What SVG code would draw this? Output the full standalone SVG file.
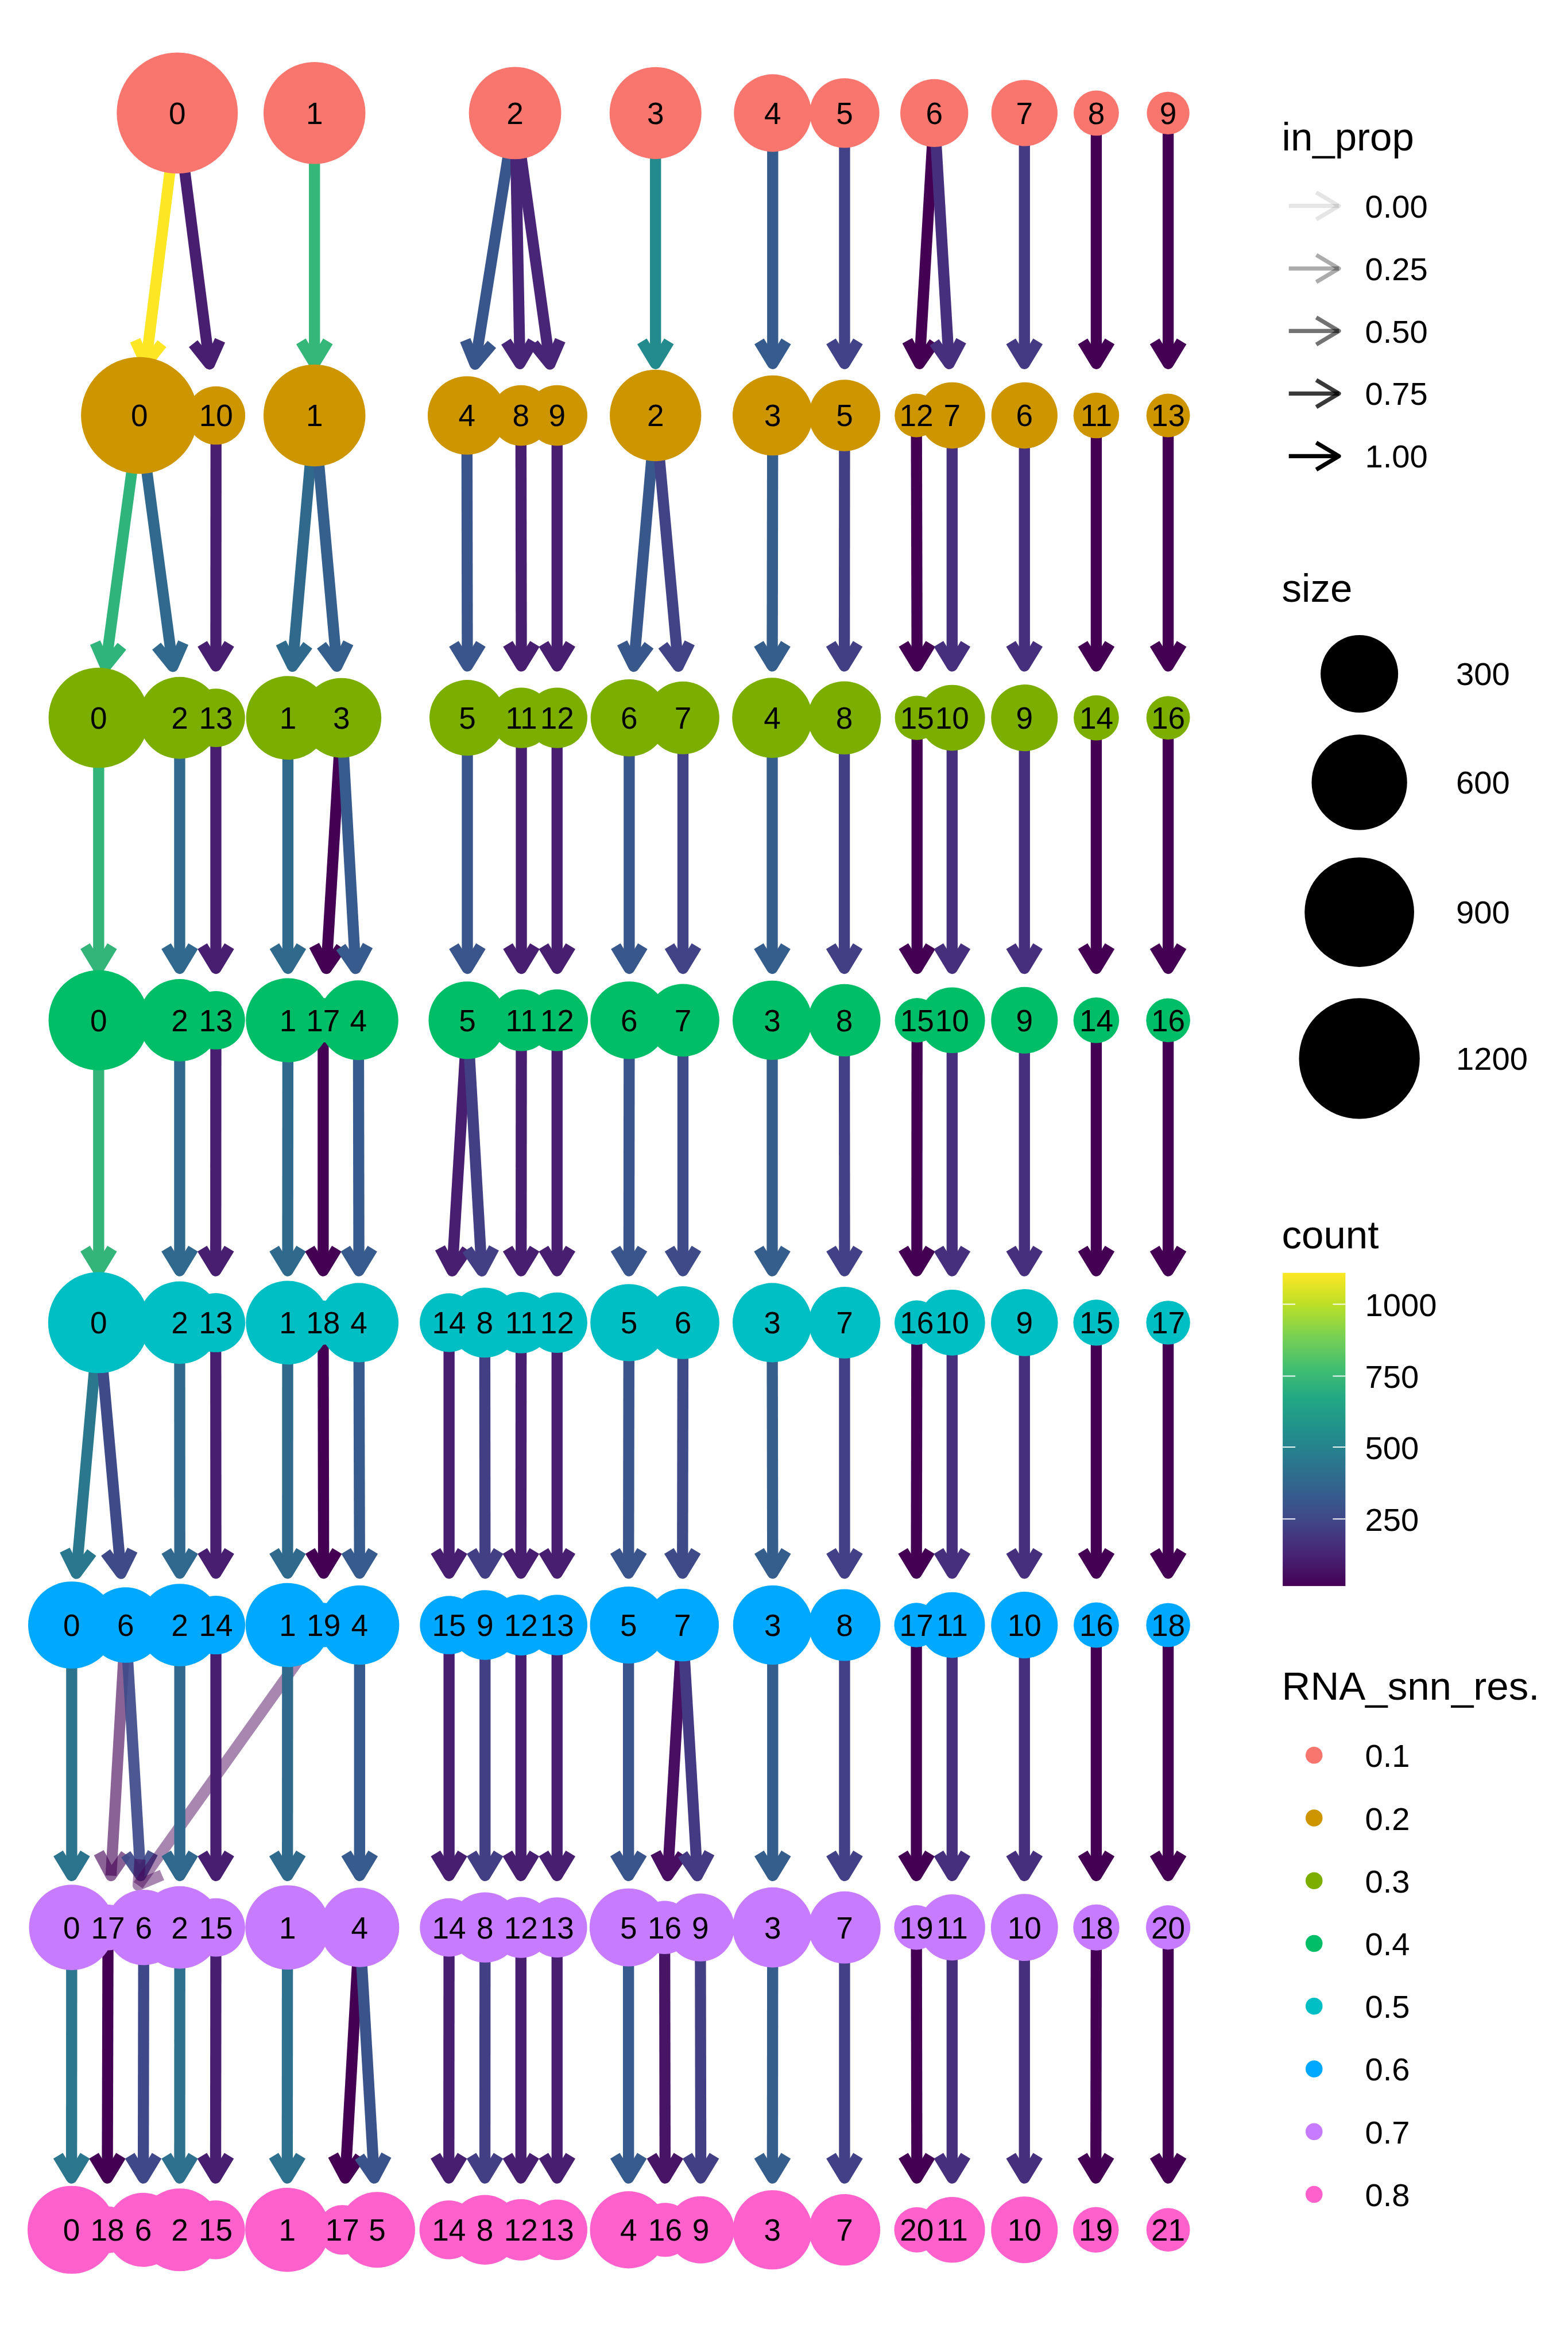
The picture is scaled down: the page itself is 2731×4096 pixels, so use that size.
<svg xmlns="http://www.w3.org/2000/svg" width="2731" height="4096" viewBox="0 0 2731 4096">
<style>
.e{fill:none;stroke-width:25.5;stroke-linejoin:round;stroke-linecap:butt}
.t{font-family:"Liberation Sans",Arial,Helvetica,sans-serif;font-size:70px;text-anchor:middle;fill:#000}
.lt{font-family:"Liberation Sans",Arial,Helvetica,sans-serif;font-size:91px;fill:#000}
.ll{font-family:"Liberation Sans",Arial,Helvetica,sans-serif;font-size:74px;fill:#000}
.r1{fill:#F8766D}.r2{fill:#CD9600}.r3{fill:#7CAE00}.r4{fill:#00BE67}
.r5{fill:#00BFC4}.r6{fill:#00A9FF}.r7{fill:#C77CFF}.r8{fill:#FF61CC}
.la{fill:none;stroke:#000;stroke-width:9.5;stroke-linejoin:round}
.tick{stroke:#fff;stroke-width:2.5}
</style>
<defs>
<path id="ah" d="M-31,-51 L0,0 L31,-51"/>
<linearGradient id="vir" x1="0" y1="1" x2="0" y2="0">
<stop offset="0" stop-color="#440154"/><stop offset="0.1" stop-color="#482475"/><stop offset="0.2" stop-color="#414487"/><stop offset="0.3" stop-color="#355F8D"/><stop offset="0.4" stop-color="#2A788E"/><stop offset="0.5" stop-color="#21918C"/><stop offset="0.6" stop-color="#22A884"/><stop offset="0.7" stop-color="#44BF70"/><stop offset="0.8" stop-color="#7AD151"/><stop offset="0.9" stop-color="#BDDF26"/><stop offset="1" stop-color="#FDE725"/>
</linearGradient>
</defs>
<rect width="2731" height="4096" fill="#fff"/>
<g transform="scale(0.758611)">
<g id="edges">
<!-- 0.1 -> 0.2 -->
<g class="e" stroke="#FDE725"><line x1="407" y1="259.5" x2="334.8" y2="835.6"/><use href="#ah" transform="translate(334.8 835.6) rotate(7.14)"/></g>
<g class="e" stroke="#481F70"><line x1="407" y1="259.5" x2="480.9" y2="835.7"/><use href="#ah" transform="translate(480.9 835.7) rotate(-7.31)"/></g>
<g class="e" stroke="#35B779"><line x1="722" y1="259.5" x2="722" y2="834.7"/><use href="#ah" x="722" y="834.7"/></g>
<g class="e" stroke="#39568C"><line x1="1182.5" y1="259.5" x2="1090.7" y2="836.2"/><use href="#ah" transform="translate(1090.7 836.2) rotate(9.04)"/></g>
<g class="e" stroke="#482576"><line x1="1182.5" y1="259.5" x2="1193.7" y2="834.7"/><use href="#ah" transform="translate(1193.7 834.7) rotate(-1.11)"/></g>
<g class="e" stroke="#482576"><line x1="1182.5" y1="259.5" x2="1262.6" y2="835.8"/><use href="#ah" transform="translate(1262.6 835.8) rotate(-7.91)"/></g>
<g class="e" stroke="#238A8D"><line x1="1505" y1="259.5" x2="1505" y2="834.7"/><use href="#ah" x="1505" y="834.7"/></g>
<g class="e" stroke="#365C8D"><line x1="1774" y1="259.5" x2="1774" y2="834.7"/><use href="#ah" x="1774" y="834.7"/></g>
<g class="e" stroke="#414287"><line x1="1939" y1="259.5" x2="1939" y2="834.7"/><use href="#ah" x="1939" y="834.7"/></g>
<g class="e" stroke="#440154"><line x1="2145" y1="259.5" x2="2111" y2="834.9"/><use href="#ah" transform="translate(2111 834.9) rotate(3.38)"/></g>
<g class="e" stroke="#46307E"><line x1="2145" y1="259.5" x2="2179" y2="834.9"/><use href="#ah" transform="translate(2179 834.9) rotate(-3.38)"/></g>
<g class="e" stroke="#443A83"><line x1="2352" y1="259.5" x2="2352" y2="834.7"/><use href="#ah" x="2352" y="834.7"/></g>
<g class="e" stroke="#440154"><line x1="2517" y1="259.5" x2="2517" y2="834.7"/><use href="#ah" x="2517" y="834.7"/></g>
<g class="e" stroke="#440154"><line x1="2682" y1="259.5" x2="2682" y2="834.7"/><use href="#ah" x="2682" y="834.7"/></g>
<!-- 0.2 -> 0.3 -->
<g class="e" stroke="#2FB47C"><line x1="320" y1="953.7" x2="242.4" y2="1530"/><use href="#ah" transform="translate(242.4 1530) rotate(7.67)"/></g>
<g class="e" stroke="#31688E"><line x1="320" y1="953.7" x2="396.8" y2="1529.9"/><use href="#ah" transform="translate(396.8 1529.9) rotate(-7.59)"/></g>
<g class="e" stroke="#481F70"><line x1="496" y1="953.7" x2="495.6" y2="1528.9"/><use href="#ah" x="495.6" y="1528.9"/></g>
<g class="e" stroke="#2F6A8D"><line x1="722" y1="953.7" x2="671.4" y2="1529.4"/><use href="#ah" transform="translate(671.4 1529.4) rotate(5.02)"/></g>
<g class="e" stroke="#355F8D"><line x1="722" y1="953.7" x2="773.4" y2="1529.4"/><use href="#ah" transform="translate(773.4 1529.4) rotate(-5.1)"/></g>
<g class="e" stroke="#3A558B"><line x1="1072" y1="953.7" x2="1073" y2="1528.9"/><use href="#ah" x="1073" y="1528.9"/></g>
<g class="e" stroke="#481F70"><line x1="1196" y1="953.7" x2="1197" y2="1528.9"/><use href="#ah" x="1197" y="1528.9"/></g>
<g class="e" stroke="#481F70"><line x1="1279" y1="953.7" x2="1279" y2="1528.9"/><use href="#ah" x="1279" y="1528.9"/></g>
<g class="e" stroke="#38588C"><line x1="1505" y1="953.7" x2="1454.9" y2="1529.4"/><use href="#ah" transform="translate(1454.9 1529.4) rotate(4.97)"/></g>
<g class="e" stroke="#424387"><line x1="1505" y1="953.7" x2="1557.3" y2="1529.4"/><use href="#ah" transform="translate(1557.3 1529.4) rotate(-5.19)"/></g>
<g class="e" stroke="#355E8D"><line x1="1774" y1="953.7" x2="1773" y2="1528.9"/><use href="#ah" x="1773" y="1528.9"/></g>
<g class="e" stroke="#433F85"><line x1="1939" y1="953.7" x2="1938.5" y2="1528.9"/><use href="#ah" x="1938.5" y="1528.9"/></g>
<g class="e" stroke="#440154"><line x1="2104" y1="953.7" x2="2105.5" y2="1528.9"/><use href="#ah" x="2105.5" y="1528.9"/></g>
<g class="e" stroke="#46307E"><line x1="2186" y1="953.7" x2="2186" y2="1528.9"/><use href="#ah" x="2186" y="1528.9"/></g>
<g class="e" stroke="#46307E"><line x1="2352" y1="953.7" x2="2352" y2="1528.9"/><use href="#ah" x="2352" y="1528.9"/></g>
<g class="e" stroke="#440154"><line x1="2517" y1="953.7" x2="2517" y2="1528.9"/><use href="#ah" x="2517" y="1528.9"/></g>
<g class="e" stroke="#440154"><line x1="2682" y1="953.7" x2="2682" y2="1528.9"/><use href="#ah" x="2682" y="1528.9"/></g>
<!-- 0.3 -> 0.4 -->
<g class="e" stroke="#33B57A"><line x1="226.5" y1="1647.9" x2="226.5" y2="2223.1"/><use href="#ah" x="226.5" y="2223.1"/></g>
<g class="e" stroke="#30688E"><line x1="412.5" y1="1647.9" x2="412.5" y2="2223.1"/><use href="#ah" x="412.5" y="2223.1"/></g>
<g class="e" stroke="#481F70"><line x1="495.6" y1="1647.9" x2="495.6" y2="2223.1"/><use href="#ah" x="495.6" y="2223.1"/></g>
<g class="e" stroke="#2F6A8D"><line x1="661" y1="1647.9" x2="661" y2="2223.1"/><use href="#ah" x="661" y="2223.1"/></g>
<g class="e" stroke="#440154"><line x1="784" y1="1647.9" x2="749.2" y2="2223.3"/><use href="#ah" transform="translate(749.2 2223.3) rotate(3.46)"/></g>
<g class="e" stroke="#375B8C"><line x1="784" y1="1647.9" x2="816.3" y2="2223.3"/><use href="#ah" transform="translate(816.3 2223.3) rotate(-3.22)"/></g>
<g class="e" stroke="#3A558B"><line x1="1073" y1="1647.9" x2="1073" y2="2223.1"/><use href="#ah" x="1073" y="2223.1"/></g>
<g class="e" stroke="#481F70"><line x1="1197" y1="1647.9" x2="1197" y2="2223.1"/><use href="#ah" x="1197" y="2223.1"/></g>
<g class="e" stroke="#481F70"><line x1="1279" y1="1647.9" x2="1279" y2="2223.1"/><use href="#ah" x="1279" y="2223.1"/></g>
<g class="e" stroke="#38588C"><line x1="1444.6" y1="1647.9" x2="1444.6" y2="2223.1"/><use href="#ah" x="1444.6" y="2223.1"/></g>
<g class="e" stroke="#424387"><line x1="1568" y1="1647.9" x2="1568" y2="2223.1"/><use href="#ah" x="1568" y="2223.1"/></g>
<g class="e" stroke="#355E8D"><line x1="1773" y1="1647.9" x2="1773" y2="2223.1"/><use href="#ah" x="1773" y="2223.1"/></g>
<g class="e" stroke="#433F85"><line x1="1938.5" y1="1647.9" x2="1938.5" y2="2223.1"/><use href="#ah" x="1938.5" y="2223.1"/></g>
<g class="e" stroke="#440154"><line x1="2105.5" y1="1647.9" x2="2105.5" y2="2223.1"/><use href="#ah" x="2105.5" y="2223.1"/></g>
<g class="e" stroke="#46307E"><line x1="2186" y1="1647.9" x2="2186" y2="2223.1"/><use href="#ah" x="2186" y="2223.1"/></g>
<g class="e" stroke="#46307E"><line x1="2352" y1="1647.9" x2="2352" y2="2223.1"/><use href="#ah" x="2352" y="2223.1"/></g>
<g class="e" stroke="#440154"><line x1="2517" y1="1647.9" x2="2517" y2="2223.1"/><use href="#ah" x="2517" y="2223.1"/></g>
<g class="e" stroke="#440154"><line x1="2682" y1="1647.9" x2="2682" y2="2223.1"/><use href="#ah" x="2682" y="2223.1"/></g>
<!-- 0.4 -> 0.5 -->
<g class="e" stroke="#33B57A"><line x1="226.5" y1="2342.1" x2="226.5" y2="2917.3"/><use href="#ah" x="226.5" y="2917.3"/></g>
<g class="e" stroke="#30688E"><line x1="412.5" y1="2342.1" x2="412.5" y2="2917.3"/><use href="#ah" x="412.5" y="2917.3"/></g>
<g class="e" stroke="#481F70"><line x1="495.6" y1="2342.1" x2="495.3" y2="2917.3"/><use href="#ah" x="495.3" y="2917.3"/></g>
<g class="e" stroke="#2F6A8D"><line x1="661" y1="2342.1" x2="660.5" y2="2917.3"/><use href="#ah" x="660.5" y="2917.3"/></g>
<g class="e" stroke="#440154"><line x1="742" y1="2342.1" x2="742" y2="2917.3"/><use href="#ah" x="742" y="2917.3"/></g>
<g class="e" stroke="#375B8C"><line x1="823" y1="2342.1" x2="824" y2="2917.3"/><use href="#ah" x="824" y="2917.3"/></g>
<g class="e" stroke="#481F70"><line x1="1073" y1="2342.1" x2="1038.2" y2="2917.5"/><use href="#ah" transform="translate(1038.2 2917.5) rotate(3.46)"/></g>
<g class="e" stroke="#433F85"><line x1="1073" y1="2342.1" x2="1106.2" y2="2917.5"/><use href="#ah" transform="translate(1106.2 2917.5) rotate(-3.3)"/></g>
<g class="e" stroke="#481F70"><line x1="1197" y1="2342.1" x2="1196.5" y2="2917.3"/><use href="#ah" x="1196.5" y="2917.3"/></g>
<g class="e" stroke="#481F70"><line x1="1279" y1="2342.1" x2="1279" y2="2917.3"/><use href="#ah" x="1279" y="2917.3"/></g>
<g class="e" stroke="#3A558B"><line x1="1444.6" y1="2342.1" x2="1444" y2="2917.3"/><use href="#ah" x="1444" y="2917.3"/></g>
<g class="e" stroke="#3F4A89"><line x1="1568" y1="2342.1" x2="1568" y2="2917.3"/><use href="#ah" x="1568" y="2917.3"/></g>
<g class="e" stroke="#355E8D"><line x1="1773" y1="2342.1" x2="1773" y2="2917.3"/><use href="#ah" x="1773" y="2917.3"/></g>
<g class="e" stroke="#424086"><line x1="1938.5" y1="2342.1" x2="1939" y2="2917.3"/><use href="#ah" x="1939" y="2917.3"/></g>
<g class="e" stroke="#440154"><line x1="2105.5" y1="2342.1" x2="2105" y2="2917.3"/><use href="#ah" x="2105" y="2917.3"/></g>
<g class="e" stroke="#46307E"><line x1="2186" y1="2342.1" x2="2186" y2="2917.3"/><use href="#ah" x="2186" y="2917.3"/></g>
<g class="e" stroke="#46307E"><line x1="2352" y1="2342.1" x2="2352" y2="2917.3"/><use href="#ah" x="2352" y="2917.3"/></g>
<g class="e" stroke="#440154"><line x1="2517" y1="2342.1" x2="2517" y2="2917.3"/><use href="#ah" x="2517" y="2917.3"/></g>
<g class="e" stroke="#440154"><line x1="2682" y1="2342.1" x2="2682" y2="2917.3"/><use href="#ah" x="2682" y="2917.3"/></g>
<!-- 0.5 -> 0.6 -->
<g class="e" stroke="#2A788E"><line x1="226.5" y1="3036.3" x2="175.2" y2="3612"/><use href="#ah" transform="translate(175.2 3612) rotate(5.1)"/></g>
<g class="e" stroke="#3F4B89"><line x1="226.5" y1="3036.3" x2="277.8" y2="3612"/><use href="#ah" transform="translate(277.8 3612) rotate(-5.1)"/></g>
<g class="e" stroke="#31688E"><line x1="412.5" y1="3036.3" x2="412.8" y2="3611.5"/><use href="#ah" x="412.8" y="3611.5"/></g>
<g class="e" stroke="#481F70"><line x1="495.3" y1="3036.3" x2="495.7" y2="3611.5"/><use href="#ah" x="495.7" y="3611.5"/></g>
<g class="e" stroke="#2F6A8D"><line x1="660.5" y1="3036.3" x2="660.3" y2="3611.5"/><use href="#ah" x="660.3" y="3611.5"/></g>
<g class="e" stroke="#440154"><line x1="742" y1="3036.3" x2="743" y2="3611.5"/><use href="#ah" x="743" y="3611.5"/></g>
<g class="e" stroke="#375B8C"><line x1="824" y1="3036.3" x2="825.6" y2="3611.5"/><use href="#ah" x="825.6" y="3611.5"/></g>
<g class="e" stroke="#481F70"><line x1="1031" y1="3036.3" x2="1031" y2="3611.5"/><use href="#ah" x="1031" y="3611.5"/></g>
<g class="e" stroke="#433F85"><line x1="1113" y1="3036.3" x2="1113.6" y2="3611.5"/><use href="#ah" x="1113.6" y="3611.5"/></g>
<g class="e" stroke="#481F70"><line x1="1196.5" y1="3036.3" x2="1196" y2="3611.5"/><use href="#ah" x="1196" y="3611.5"/></g>
<g class="e" stroke="#481F70"><line x1="1279" y1="3036.3" x2="1279" y2="3611.5"/><use href="#ah" x="1279" y="3611.5"/></g>
<g class="e" stroke="#3A558B"><line x1="1444" y1="3036.3" x2="1443" y2="3611.5"/><use href="#ah" x="1443" y="3611.5"/></g>
<g class="e" stroke="#3F4A89"><line x1="1568" y1="3036.3" x2="1567" y2="3611.5"/><use href="#ah" x="1567" y="3611.5"/></g>
<g class="e" stroke="#355E8D"><line x1="1773" y1="3036.3" x2="1774" y2="3611.5"/><use href="#ah" x="1774" y="3611.5"/></g>
<g class="e" stroke="#424086"><line x1="1939" y1="3036.3" x2="1939" y2="3611.5"/><use href="#ah" x="1939" y="3611.5"/></g>
<g class="e" stroke="#440154"><line x1="2105" y1="3036.3" x2="2104" y2="3611.5"/><use href="#ah" x="2104" y="3611.5"/></g>
<g class="e" stroke="#46307E"><line x1="2186" y1="3036.3" x2="2186" y2="3611.5"/><use href="#ah" x="2186" y="3611.5"/></g>
<g class="e" stroke="#46307E"><line x1="2352" y1="3036.3" x2="2352" y2="3611.5"/><use href="#ah" x="2352" y="3611.5"/></g>
<g class="e" stroke="#440154"><line x1="2517" y1="3036.3" x2="2517" y2="3611.5"/><use href="#ah" x="2517" y="3611.5"/></g>
<g class="e" stroke="#440154"><line x1="2682" y1="3036.3" x2="2682" y2="3611.5"/><use href="#ah" x="2682" y="3611.5"/></g>
<!-- 0.6 -> 0.7 -->
<g class="e" stroke="#2C738E"><line x1="164.6" y1="3730.5" x2="164.6" y2="4305.7"/><use href="#ah" x="164.6" y="4305.7"/></g>
<g class="e" stroke="#440154" stroke-opacity="0.62"><line x1="288.4" y1="3730.5" x2="254.9" y2="4305.9"/><use href="#ah" transform="translate(254.9 4305.9) rotate(3.33)"/></g>
<g class="e" stroke="#3E4A89" stroke-opacity="0.92"><line x1="288.4" y1="3730.5" x2="322.9" y2="4305.9"/><use href="#ah" transform="translate(322.9 4305.9) rotate(-3.43)"/></g>
<g class="e" stroke="#440154" stroke-opacity="0.47"><line x1="743" y1="3730.5" x2="317.1" y2="4327.8"/><use href="#ah" transform="translate(317.1 4327.8) rotate(35.49)"/></g>
<g class="e" stroke="#31688E"><line x1="412.8" y1="3730.5" x2="412.8" y2="4305.7"/><use href="#ah" x="412.8" y="4305.7"/></g>
<g class="e" stroke="#481F70"><line x1="495.7" y1="3730.5" x2="495.7" y2="4305.7"/><use href="#ah" x="495.7" y="4305.7"/></g>
<g class="e" stroke="#2F6A8D"><line x1="660.3" y1="3730.5" x2="660" y2="4305.7"/><use href="#ah" x="660" y="4305.7"/></g>
<g class="e" stroke="#375B8C"><line x1="825.6" y1="3730.5" x2="825.6" y2="4305.7"/><use href="#ah" x="825.6" y="4305.7"/></g>
<g class="e" stroke="#481F70"><line x1="1031" y1="3730.5" x2="1031" y2="4305.7"/><use href="#ah" x="1031" y="4305.7"/></g>
<g class="e" stroke="#433F85"><line x1="1113.6" y1="3730.5" x2="1113.6" y2="4305.7"/><use href="#ah" x="1113.6" y="4305.7"/></g>
<g class="e" stroke="#481F70"><line x1="1196" y1="3730.5" x2="1196" y2="4305.7"/><use href="#ah" x="1196" y="4305.7"/></g>
<g class="e" stroke="#481F70"><line x1="1279" y1="3730.5" x2="1279" y2="4305.7"/><use href="#ah" x="1279" y="4305.7"/></g>
<g class="e" stroke="#3A558B"><line x1="1443" y1="3730.5" x2="1443" y2="4305.7"/><use href="#ah" x="1443" y="4305.7"/></g>
<g class="e" stroke="#470E61"><line x1="1567" y1="3730.5" x2="1533" y2="4305.9"/><use href="#ah" transform="translate(1533 4305.9) rotate(3.38)"/></g>
<g class="e" stroke="#443983"><line x1="1567" y1="3730.5" x2="1601" y2="4305.9"/><use href="#ah" transform="translate(1601 4305.9) rotate(-3.38)"/></g>
<g class="e" stroke="#355E8D"><line x1="1774" y1="3730.5" x2="1774" y2="4305.7"/><use href="#ah" x="1774" y="4305.7"/></g>
<g class="e" stroke="#424086"><line x1="1939" y1="3730.5" x2="1939" y2="4305.7"/><use href="#ah" x="1939" y="4305.7"/></g>
<g class="e" stroke="#440154"><line x1="2104" y1="3730.5" x2="2104" y2="4305.7"/><use href="#ah" x="2104" y="4305.7"/></g>
<g class="e" stroke="#46307E"><line x1="2186" y1="3730.5" x2="2186" y2="4305.7"/><use href="#ah" x="2186" y="4305.7"/></g>
<g class="e" stroke="#46307E"><line x1="2352" y1="3730.5" x2="2352" y2="4305.7"/><use href="#ah" x="2352" y="4305.7"/></g>
<g class="e" stroke="#440154"><line x1="2517" y1="3730.5" x2="2517" y2="4305.7"/><use href="#ah" x="2517" y="4305.7"/></g>
<g class="e" stroke="#440154"><line x1="2682" y1="3730.5" x2="2682" y2="4305.7"/><use href="#ah" x="2682" y="4305.7"/></g>
<!-- 0.7 -> 0.8 -->
<g class="e" stroke="#2C768E"><line x1="164.6" y1="4424.7" x2="164.3" y2="4999.9"/><use href="#ah" x="164.3" y="4999.9"/></g>
<g class="e" stroke="#440154"><line x1="248" y1="4424.7" x2="246.5" y2="4999.9"/><use href="#ah" x="246.5" y="4999.9"/></g>
<g class="e" stroke="#3F4889"><line x1="330" y1="4424.7" x2="329" y2="4999.9"/><use href="#ah" x="329" y="4999.9"/></g>
<g class="e" stroke="#2D718E"><line x1="412.8" y1="4424.7" x2="412.6" y2="4999.9"/><use href="#ah" x="412.6" y="4999.9"/></g>
<g class="e" stroke="#481F70"><line x1="495.7" y1="4424.7" x2="495" y2="4999.9"/><use href="#ah" x="495" y="4999.9"/></g>
<g class="e" stroke="#2D718E"><line x1="660" y1="4424.7" x2="659.5" y2="4999.9"/><use href="#ah" x="659.5" y="4999.9"/></g>
<g class="e" stroke="#440154"><line x1="825.6" y1="4424.7" x2="792.8" y2="5000.1"/><use href="#ah" transform="translate(792.8 5000.1) rotate(3.26)"/></g>
<g class="e" stroke="#3A538B"><line x1="825.6" y1="4424.7" x2="859.1" y2="5000.1"/><use href="#ah" transform="translate(859.1 5000.1) rotate(-3.33)"/></g>
<g class="e" stroke="#481F70"><line x1="1031" y1="4424.7" x2="1030.5" y2="4999.9"/><use href="#ah" x="1030.5" y="4999.9"/></g>
<g class="e" stroke="#433F85"><line x1="1113.6" y1="4424.7" x2="1113.3" y2="4999.9"/><use href="#ah" x="1113.3" y="4999.9"/></g>
<g class="e" stroke="#481F70"><line x1="1196" y1="4424.7" x2="1196" y2="4999.9"/><use href="#ah" x="1196" y="4999.9"/></g>
<g class="e" stroke="#481F70"><line x1="1279" y1="4424.7" x2="1279" y2="4999.9"/><use href="#ah" x="1279" y="4999.9"/></g>
<g class="e" stroke="#365C8D"><line x1="1443" y1="4424.7" x2="1443" y2="4999.9"/><use href="#ah" x="1443" y="4999.9"/></g>
<g class="e" stroke="#481466"><line x1="1526" y1="4424.7" x2="1527" y2="4999.9"/><use href="#ah" x="1527" y="4999.9"/></g>
<g class="e" stroke="#433F85"><line x1="1608" y1="4424.7" x2="1609" y2="4999.9"/><use href="#ah" x="1609" y="4999.9"/></g>
<g class="e" stroke="#355E8D"><line x1="1774" y1="4424.7" x2="1773.5" y2="4999.9"/><use href="#ah" x="1773.5" y="4999.9"/></g>
<g class="e" stroke="#424086"><line x1="1939" y1="4424.7" x2="1939" y2="4999.9"/><use href="#ah" x="1939" y="4999.9"/></g>
<g class="e" stroke="#440154"><line x1="2104" y1="4424.7" x2="2105" y2="4999.9"/><use href="#ah" x="2105" y="4999.9"/></g>
<g class="e" stroke="#46307E"><line x1="2186" y1="4424.7" x2="2186" y2="4999.9"/><use href="#ah" x="2186" y="4999.9"/></g>
<g class="e" stroke="#46307E"><line x1="2352" y1="4424.7" x2="2352" y2="4999.9"/><use href="#ah" x="2352" y="4999.9"/></g>
<g class="e" stroke="#440154"><line x1="2517" y1="4424.7" x2="2516" y2="4999.9"/><use href="#ah" x="2516" y="4999.9"/></g>
<g class="e" stroke="#440154"><line x1="2682" y1="4424.7" x2="2682" y2="4999.9"/><use href="#ah" x="2682" y="4999.9"/></g>
</g>
<g id="nodes">
<g id="node-0.1-0" class="r1"><circle cx="407" cy="259.5" r="139"/></g>
<g id="node-0.1-1" class="r1"><circle cx="722" cy="259.5" r="117"/></g>
<g id="node-0.1-2" class="r1"><circle cx="1182.5" cy="259.5" r="106"/></g>
<g id="node-0.1-3" class="r1"><circle cx="1505" cy="259.5" r="105.5"/></g>
<g id="node-0.1-4" class="r1"><circle cx="1774" cy="259.5" r="89"/></g>
<g id="node-0.1-5" class="r1"><circle cx="1939" cy="259.5" r="80"/></g>
<g id="node-0.1-6" class="r1"><circle cx="2145" cy="259.5" r="78"/></g>
<g id="node-0.1-7" class="r1"><circle cx="2352" cy="259.5" r="76"/></g>
<g id="node-0.1-8" class="r1"><circle cx="2517" cy="259.5" r="52"/></g>
<g id="node-0.1-9" class="r1"><circle cx="2682" cy="259.5" r="49"/></g>

<g id="node-0.2-0" class="r2"><circle cx="320" cy="953.7" r="134"/></g>
<g id="node-0.2-10" class="r2"><circle cx="496" cy="953.7" r="67"/></g>
<g id="node-0.2-1" class="r2"><circle cx="722" cy="953.7" r="117"/></g>
<g id="node-0.2-4" class="r2"><circle cx="1072" cy="953.7" r="90"/></g>
<g id="node-0.2-8" class="r2"><circle cx="1196" cy="953.7" r="69.5"/></g>
<g id="node-0.2-9" class="r2"><circle cx="1279" cy="953.7" r="69.5"/></g>
<g id="node-0.2-2" class="r2"><circle cx="1505" cy="953.7" r="105"/></g>
<g id="node-0.2-3" class="r2"><circle cx="1774" cy="953.7" r="92"/></g>
<g id="node-0.2-5" class="r2"><circle cx="1939" cy="953.7" r="82"/></g>
<g id="node-0.2-12" class="r2"><circle cx="2104" cy="953.7" r="50"/></g>
<g id="node-0.2-7" class="r2"><circle cx="2186" cy="953.7" r="76"/></g>
<g id="node-0.2-6" class="r2"><circle cx="2352" cy="953.7" r="76"/></g>
<g id="node-0.2-11" class="r2"><circle cx="2517" cy="953.7" r="52.5"/></g>
<g id="node-0.2-13" class="r2"><circle cx="2682" cy="953.7" r="50"/></g>

<g id="node-0.3-0" class="r3"><circle cx="226.5" cy="1647.9" r="115"/></g>
<g id="node-0.3-2" class="r3"><circle cx="412.5" cy="1647.9" r="94"/></g>
<g id="node-0.3-13" class="r3"><circle cx="495.6" cy="1647.9" r="67"/></g>
<g id="node-0.3-1" class="r3"><circle cx="661" cy="1647.9" r="96"/></g>
<g id="node-0.3-3" class="r3"><circle cx="784" cy="1647.9" r="91.5"/></g>
<g id="node-0.3-5" class="r3"><circle cx="1073" cy="1647.9" r="87"/></g>
<g id="node-0.3-11" class="r3"><circle cx="1197" cy="1647.9" r="69.5"/></g>
<g id="node-0.3-12" class="r3"><circle cx="1279" cy="1647.9" r="69.5"/></g>
<g id="node-0.3-6" class="r3"><circle cx="1444.6" cy="1647.9" r="88.5"/></g>
<g id="node-0.3-7" class="r3"><circle cx="1568" cy="1647.9" r="83.5"/></g>
<g id="node-0.3-4" class="r3"><circle cx="1773" cy="1647.9" r="92"/></g>
<g id="node-0.3-8" class="r3"><circle cx="1938.5" cy="1647.9" r="84"/></g>
<g id="node-0.3-15" class="r3"><circle cx="2105.5" cy="1647.9" r="51"/></g>
<g id="node-0.3-10" class="r3"><circle cx="2186" cy="1647.9" r="75.5"/></g>
<g id="node-0.3-9" class="r3"><circle cx="2352" cy="1647.9" r="76.5"/></g>
<g id="node-0.3-14" class="r3"><circle cx="2517" cy="1647.9" r="52"/></g>
<g id="node-0.3-16" class="r3"><circle cx="2682" cy="1647.9" r="50"/></g>

<g id="node-0.4-0" class="r4"><circle cx="226.5" cy="2342.1" r="115"/></g>
<g id="node-0.4-2" class="r4"><circle cx="412.5" cy="2342.1" r="94.5"/></g>
<g id="node-0.4-13" class="r4"><circle cx="495.6" cy="2342.1" r="67"/></g>
<g id="node-0.4-1" class="r4"><circle cx="661" cy="2342.1" r="96.5"/></g>
<g id="node-0.4-17" class="r4"><circle cx="742" cy="2342.1" r="51"/></g>
<g id="node-0.4-4" class="r4"><circle cx="823" cy="2342.1" r="91.5"/></g>
<g id="node-0.4-5" class="r4"><circle cx="1073" cy="2342.1" r="89"/></g>
<g id="node-0.4-11" class="r4"><circle cx="1197" cy="2342.1" r="71"/></g>
<g id="node-0.4-12" class="r4"><circle cx="1279" cy="2342.1" r="71"/></g>
<g id="node-0.4-6" class="r4"><circle cx="1444.6" cy="2342.1" r="89"/></g>
<g id="node-0.4-7" class="r4"><circle cx="1568" cy="2342.1" r="83.5"/></g>
<g id="node-0.4-3" class="r4"><circle cx="1773" cy="2342.1" r="91"/></g>
<g id="node-0.4-8" class="r4"><circle cx="1938.5" cy="2342.1" r="83"/></g>
<g id="node-0.4-15" class="r4"><circle cx="2105.5" cy="2342.1" r="51"/></g>
<g id="node-0.4-10" class="r4"><circle cx="2186" cy="2342.1" r="75.5"/></g>
<g id="node-0.4-9" class="r4"><circle cx="2352" cy="2342.1" r="76.5"/></g>
<g id="node-0.4-14" class="r4"><circle cx="2517" cy="2342.1" r="52.5"/></g>
<g id="node-0.4-16" class="r4"><circle cx="2682" cy="2342.1" r="50.5"/></g>

<g id="node-0.5-0" class="r5"><circle cx="226.5" cy="3036.3" r="116"/></g>
<g id="node-0.5-2" class="r5"><circle cx="412.5" cy="3036.3" r="94.6"/></g>
<g id="node-0.5-13" class="r5"><circle cx="495.3" cy="3036.3" r="67.8"/></g>
<g id="node-0.5-1" class="r5"><circle cx="660.5" cy="3036.3" r="96"/></g>
<g id="node-0.5-18" class="r5"><circle cx="742" cy="3036.3" r="51"/></g>
<g id="node-0.5-4" class="r5"><circle cx="824" cy="3036.3" r="91"/></g>
<g id="node-0.5-14" class="r5"><circle cx="1031" cy="3036.3" r="67.4"/></g>
<g id="node-0.5-8" class="r5"><circle cx="1113" cy="3036.3" r="80.4"/></g>
<g id="node-0.5-11" class="r5"><circle cx="1196.5" cy="3036.3" r="70.3"/></g>
<g id="node-0.5-12" class="r5"><circle cx="1279" cy="3036.3" r="69.4"/></g>
<g id="node-0.5-5" class="r5"><circle cx="1444" cy="3036.3" r="88.6"/></g>
<g id="node-0.5-6" class="r5"><circle cx="1568" cy="3036.3" r="83.6"/></g>
<g id="node-0.5-3" class="r5"><circle cx="1773" cy="3036.3" r="91"/></g>
<g id="node-0.5-7" class="r5"><circle cx="1939" cy="3036.3" r="82.3"/></g>
<g id="node-0.5-16" class="r5"><circle cx="2105" cy="3036.3" r="51.3"/></g>
<g id="node-0.5-10" class="r5"><circle cx="2186" cy="3036.3" r="75.6"/></g>
<g id="node-0.5-9" class="r5"><circle cx="2352" cy="3036.3" r="76.8"/></g>
<g id="node-0.5-15" class="r5"><circle cx="2517" cy="3036.3" r="52.8"/></g>
<g id="node-0.5-17" class="r5"><circle cx="2682" cy="3036.3" r="50.4"/></g>

<g id="node-0.6-0" class="r6"><circle cx="164.6" cy="3730.5" r="100"/></g>
<g id="node-0.6-6" class="r6"><circle cx="288.4" cy="3730.5" r="86.6"/></g>
<g id="node-0.6-2" class="r6"><circle cx="412.8" cy="3730.5" r="94.7"/></g>
<g id="node-0.6-14" class="r6"><circle cx="495.7" cy="3730.5" r="67.3"/></g>
<g id="node-0.6-1" class="r6"><circle cx="660.3" cy="3730.5" r="96.5"/></g>
<g id="node-0.6-19" class="r6"><circle cx="743" cy="3730.5" r="51"/></g>
<g id="node-0.6-4" class="r6"><circle cx="825.6" cy="3730.5" r="91"/></g>
<g id="node-0.6-15" class="r6"><circle cx="1031" cy="3730.5" r="67"/></g>
<g id="node-0.6-9" class="r6"><circle cx="1113.6" cy="3730.5" r="80"/></g>
<g id="node-0.6-12" class="r6"><circle cx="1196" cy="3730.5" r="70"/></g>
<g id="node-0.6-13" class="r6"><circle cx="1279" cy="3730.5" r="69.5"/></g>
<g id="node-0.6-5" class="r6"><circle cx="1443" cy="3730.5" r="88.4"/></g>
<g id="node-0.6-7" class="r6"><circle cx="1567" cy="3730.5" r="83.5"/></g>
<g id="node-0.6-3" class="r6"><circle cx="1774" cy="3730.5" r="91"/></g>
<g id="node-0.6-8" class="r6"><circle cx="1939" cy="3730.5" r="82.4"/></g>
<g id="node-0.6-17" class="r6"><circle cx="2104" cy="3730.5" r="51"/></g>
<g id="node-0.6-11" class="r6"><circle cx="2186" cy="3730.5" r="75.4"/></g>
<g id="node-0.6-10" class="r6"><circle cx="2352" cy="3730.5" r="76.5"/></g>
<g id="node-0.6-16" class="r6"><circle cx="2517" cy="3730.5" r="52"/></g>
<g id="node-0.6-18" class="r6"><circle cx="2682" cy="3730.5" r="50.5"/></g>

<g id="node-0.7-0" class="r7"><circle cx="164.6" cy="4424.7" r="98"/></g>
<g id="node-0.7-17" class="r7"><circle cx="248" cy="4424.7" r="52.6"/></g>
<g id="node-0.7-6" class="r7"><circle cx="330" cy="4424.7" r="86.6"/></g>
<g id="node-0.7-2" class="r7"><circle cx="412.8" cy="4424.7" r="94.7"/></g>
<g id="node-0.7-15" class="r7"><circle cx="495.7" cy="4424.7" r="67"/></g>
<g id="node-0.7-1" class="r7"><circle cx="660" cy="4424.7" r="96.8"/></g>
<g id="node-0.7-4" class="r7"><circle cx="825.6" cy="4424.7" r="91"/></g>
<g id="node-0.7-14" class="r7"><circle cx="1031" cy="4424.7" r="67"/></g>
<g id="node-0.7-8" class="r7"><circle cx="1113.6" cy="4424.7" r="80.7"/></g>
<g id="node-0.7-12" class="r7"><circle cx="1196" cy="4424.7" r="70"/></g>
<g id="node-0.7-13" class="r7"><circle cx="1279" cy="4424.7" r="69"/></g>
<g id="node-0.7-5" class="r7"><circle cx="1443" cy="4424.7" r="89.4"/></g>
<g id="node-0.7-16" class="r7"><circle cx="1526" cy="4424.7" r="61"/></g>
<g id="node-0.7-9" class="r7"><circle cx="1608" cy="4424.7" r="78"/></g>
<g id="node-0.7-3" class="r7"><circle cx="1774" cy="4424.7" r="92"/></g>
<g id="node-0.7-7" class="r7"><circle cx="1939" cy="4424.7" r="82.8"/></g>
<g id="node-0.7-19" class="r7"><circle cx="2104" cy="4424.7" r="51.2"/></g>
<g id="node-0.7-11" class="r7"><circle cx="2186" cy="4424.7" r="75.8"/></g>
<g id="node-0.7-10" class="r7"><circle cx="2352" cy="4424.7" r="77"/></g>
<g id="node-0.7-18" class="r7"><circle cx="2517" cy="4424.7" r="53"/></g>
<g id="node-0.7-20" class="r7"><circle cx="2682" cy="4424.7" r="51"/></g>

<g id="node-0.8-0" class="r8"><circle cx="164.3" cy="5118.9" r="101"/></g>
<g id="node-0.8-18" class="r8"><circle cx="246.5" cy="5118.9" r="54"/></g>
<g id="node-0.8-6" class="r8"><circle cx="329" cy="5118.9" r="85"/></g>
<g id="node-0.8-2" class="r8"><circle cx="412.6" cy="5118.9" r="95"/></g>
<g id="node-0.8-15" class="r8"><circle cx="495" cy="5118.9" r="67.5"/></g>
<g id="node-0.8-1" class="r8"><circle cx="659.5" cy="5118.9" r="96.5"/></g>
<g id="node-0.8-17" class="r8"><circle cx="786" cy="5118.9" r="57"/></g>
<g id="node-0.8-5" class="r8"><circle cx="866" cy="5118.9" r="87"/></g>
<g id="node-0.8-14" class="r8"><circle cx="1030.5" cy="5118.9" r="67.5"/></g>
<g id="node-0.8-8" class="r8"><circle cx="1113.3" cy="5118.9" r="80"/></g>
<g id="node-0.8-12" class="r8"><circle cx="1196" cy="5118.9" r="70.5"/></g>
<g id="node-0.8-13" class="r8"><circle cx="1279" cy="5118.9" r="69.5"/></g>
<g id="node-0.8-4" class="r8"><circle cx="1443" cy="5118.9" r="88.5"/></g>
<g id="node-0.8-16" class="r8"><circle cx="1527" cy="5118.9" r="62"/></g>
<g id="node-0.8-9" class="r8"><circle cx="1609" cy="5118.9" r="77"/></g>
<g id="node-0.8-3" class="r8"><circle cx="1773.5" cy="5118.9" r="91"/></g>
<g id="node-0.8-7" class="r8"><circle cx="1939" cy="5118.9" r="82"/></g>
<g id="node-0.8-20" class="r8"><circle cx="2105" cy="5118.9" r="52"/></g>
<g id="node-0.8-11" class="r8"><circle cx="2186" cy="5118.9" r="75.5"/></g>
<g id="node-0.8-10" class="r8"><circle cx="2352" cy="5118.9" r="76.5"/></g>
<g id="node-0.8-19" class="r8"><circle cx="2516" cy="5118.9" r="52.5"/></g>
<g id="node-0.8-21" class="r8"><circle cx="2682" cy="5118.9" r="50"/></g>
</g>
<g id="node-labels" class="t">
<text x="407" y="284.5">0</text><text x="722" y="284.5">1</text><text x="1182.5" y="284.5">2</text><text x="1505" y="284.5">3</text><text x="1774" y="284.5">4</text><text x="1939" y="284.5">5</text><text x="2145" y="284.5">6</text><text x="2352" y="284.5">7</text><text x="2517" y="284.5">8</text><text x="2682" y="284.5">9</text>
<text x="320" y="978.7">0</text><text x="496" y="978.7">10</text><text x="722" y="978.7">1</text><text x="1072" y="978.7">4</text><text x="1196" y="978.7">8</text><text x="1279" y="978.7">9</text><text x="1505" y="978.7">2</text><text x="1774" y="978.7">3</text><text x="1939" y="978.7">5</text><text x="2104" y="978.7">12</text><text x="2186" y="978.7">7</text><text x="2352" y="978.7">6</text><text x="2517" y="978.7">11</text><text x="2682" y="978.7">13</text>
<text x="226.5" y="1672.9">0</text><text x="412.5" y="1672.9">2</text><text x="495.6" y="1672.9">13</text><text x="661" y="1672.9">1</text><text x="784" y="1672.9">3</text><text x="1073" y="1672.9">5</text><text x="1197" y="1672.9">11</text><text x="1279" y="1672.9">12</text><text x="1444.6" y="1672.9">6</text><text x="1568" y="1672.9">7</text><text x="1773" y="1672.9">4</text><text x="1938.5" y="1672.9">8</text><text x="2105.5" y="1672.9">15</text><text x="2186" y="1672.9">10</text><text x="2352" y="1672.9">9</text><text x="2517" y="1672.9">14</text><text x="2682" y="1672.9">16</text>
<text x="226.5" y="2367.1">0</text><text x="412.5" y="2367.1">2</text><text x="495.6" y="2367.1">13</text><text x="661" y="2367.1">1</text><text x="742" y="2367.1">17</text><text x="823" y="2367.1">4</text><text x="1073" y="2367.1">5</text><text x="1197" y="2367.1">11</text><text x="1279" y="2367.1">12</text><text x="1444.6" y="2367.1">6</text><text x="1568" y="2367.1">7</text><text x="1773" y="2367.1">3</text><text x="1938.5" y="2367.1">8</text><text x="2105.5" y="2367.1">15</text><text x="2186" y="2367.1">10</text><text x="2352" y="2367.1">9</text><text x="2517" y="2367.1">14</text><text x="2682" y="2367.1">16</text>
<text x="226.5" y="3061.3">0</text><text x="412.5" y="3061.3">2</text><text x="495.3" y="3061.3">13</text><text x="660.5" y="3061.3">1</text><text x="742" y="3061.3">18</text><text x="824" y="3061.3">4</text><text x="1031" y="3061.3">14</text><text x="1113" y="3061.3">8</text><text x="1196.5" y="3061.3">11</text><text x="1279" y="3061.3">12</text><text x="1444" y="3061.3">5</text><text x="1568" y="3061.3">6</text><text x="1773" y="3061.3">3</text><text x="1939" y="3061.3">7</text><text x="2105" y="3061.3">16</text><text x="2186" y="3061.3">10</text><text x="2352" y="3061.3">9</text><text x="2517" y="3061.3">15</text><text x="2682" y="3061.3">17</text>
<text x="164.6" y="3755.5">0</text><text x="288.4" y="3755.5">6</text><text x="412.8" y="3755.5">2</text><text x="495.7" y="3755.5">14</text><text x="660.3" y="3755.5">1</text><text x="743" y="3755.5">19</text><text x="825.6" y="3755.5">4</text><text x="1031" y="3755.5">15</text><text x="1113.6" y="3755.5">9</text><text x="1196" y="3755.5">12</text><text x="1279" y="3755.5">13</text><text x="1443" y="3755.5">5</text><text x="1567" y="3755.5">7</text><text x="1774" y="3755.5">3</text><text x="1939" y="3755.5">8</text><text x="2104" y="3755.5">17</text><text x="2186" y="3755.5">11</text><text x="2352" y="3755.5">10</text><text x="2517" y="3755.5">16</text><text x="2682" y="3755.5">18</text>
<text x="164.6" y="4449.7">0</text><text x="248" y="4449.7">17</text><text x="330" y="4449.7">6</text><text x="412.8" y="4449.7">2</text><text x="495.7" y="4449.7">15</text><text x="660" y="4449.7">1</text><text x="825.6" y="4449.7">4</text><text x="1031" y="4449.7">14</text><text x="1113.6" y="4449.7">8</text><text x="1196" y="4449.7">12</text><text x="1279" y="4449.7">13</text><text x="1443" y="4449.7">5</text><text x="1526" y="4449.7">16</text><text x="1608" y="4449.7">9</text><text x="1774" y="4449.7">3</text><text x="1939" y="4449.7">7</text><text x="2104" y="4449.7">19</text><text x="2186" y="4449.7">11</text><text x="2352" y="4449.7">10</text><text x="2517" y="4449.7">18</text><text x="2682" y="4449.7">20</text>
<text x="164.3" y="5143.9">0</text><text x="246.5" y="5143.9">18</text><text x="329" y="5143.9">6</text><text x="412.6" y="5143.9">2</text><text x="495" y="5143.9">15</text><text x="659.5" y="5143.9">1</text><text x="786" y="5143.9">17</text><text x="866" y="5143.9">5</text><text x="1030.5" y="5143.9">14</text><text x="1113.3" y="5143.9">8</text><text x="1196" y="5143.9">12</text><text x="1279" y="5143.9">13</text><text x="1443" y="5143.9">4</text><text x="1527" y="5143.9">16</text><text x="1609" y="5143.9">9</text><text x="1773.5" y="5143.9">3</text><text x="1939" y="5143.9">7</text><text x="2105" y="5143.9">20</text><text x="2186" y="5143.9">11</text><text x="2352" y="5143.9">10</text><text x="2516" y="5143.9">19</text><text x="2682" y="5143.9">21</text>
</g>
<g id="legend-in_prop">
<text class="lt" x="2943" y="345">in_prop</text>
<g class="la" stroke-opacity="0.1"><line x1="2959" y1="472.7" x2="3074" y2="472.7"/><path d="M3022,441.7 L3074,472.7 L3022,503.7"/></g>
<g class="la" stroke-opacity="0.325"><line x1="2959" y1="616.3" x2="3074" y2="616.3"/><path d="M3022,585.3 L3074,616.3 L3022,647.3"/></g>
<g class="la" stroke-opacity="0.55"><line x1="2959" y1="759.9" x2="3074" y2="759.9"/><path d="M3022,728.9 L3074,759.9 L3022,790.9"/></g>
<g class="la" stroke-opacity="0.775"><line x1="2959" y1="903.5" x2="3074" y2="903.5"/><path d="M3022,872.5 L3074,903.5 L3022,934.5"/></g>
<g class="la"><line x1="2959" y1="1047.1" x2="3074" y2="1047.1"/><path d="M3022,1016.1 L3074,1047.1 L3022,1078.1"/></g>
<text class="ll" x="3134" y="499.2">0.00</text>
<text class="ll" x="3134" y="642.8">0.25</text>
<text class="ll" x="3134" y="786.4">0.50</text>
<text class="ll" x="3134" y="930">0.75</text>
<text class="ll" x="3134" y="1073.6">1.00</text>
</g>
<g id="legend-size">
<text class="lt" x="2943" y="1381">size</text>
<circle cx="3121" cy="1547" r="89"/>
<circle cx="3121" cy="1796" r="109.6"/>
<circle cx="3121" cy="2094" r="125.7"/>
<circle cx="3121" cy="2430" r="138.6"/>
<text class="ll" x="3343" y="1573">300</text>
<text class="ll" x="3343" y="1822">600</text>
<text class="ll" x="3343" y="2120">900</text>
<text class="ll" x="3343" y="2456">1200</text>
</g>
<g id="legend-count">
<text class="lt" x="2943" y="2866">count</text>
<rect x="2945" y="2922" width="144" height="719" fill="url(#vir)"/>
<g class="tick">
<line x1="2945" y1="2994" x2="2974" y2="2994"/><line x1="3060" y1="2994" x2="3089" y2="2994"/>
<line x1="2945" y1="3159" x2="2974" y2="3159"/><line x1="3060" y1="3159" x2="3089" y2="3159"/>
<line x1="2945" y1="3322" x2="2974" y2="3322"/><line x1="3060" y1="3322" x2="3089" y2="3322"/>
<line x1="2945" y1="3487" x2="2974" y2="3487"/><line x1="3060" y1="3487" x2="3089" y2="3487"/>
</g>
<text class="ll" x="3134" y="3021">1000</text>
<text class="ll" x="3134" y="3186">750</text>
<text class="ll" x="3134" y="3349">500</text>
<text class="ll" x="3134" y="3514">250</text>
</g>
<g id="legend-res">
<text class="lt" x="2943" y="3902">RNA_snn_res.</text>
<circle class="r1" cx="3017" cy="4029.5" r="19.5"/>
<circle class="r2" cx="3017" cy="4173.5" r="19.5"/>
<circle class="r3" cx="3017" cy="4317.5" r="19.5"/>
<circle class="r4" cx="3017" cy="4461.5" r="19.5"/>
<circle class="r5" cx="3017" cy="4605.5" r="19.5"/>
<circle class="r6" cx="3017" cy="4749.5" r="19.5"/>
<circle class="r7" cx="3017" cy="4893.5" r="19.5"/>
<circle class="r8" cx="3017" cy="5037.5" r="19.5"/>
<text class="ll" x="3134" y="4056.5">0.1</text>
<text class="ll" x="3134" y="4200.5">0.2</text>
<text class="ll" x="3134" y="4344.5">0.3</text>
<text class="ll" x="3134" y="4488.5">0.4</text>
<text class="ll" x="3134" y="4632.5">0.5</text>
<text class="ll" x="3134" y="4776.5">0.6</text>
<text class="ll" x="3134" y="4920.5">0.7</text>
<text class="ll" x="3134" y="5064.5">0.8</text>
</g>
</g>
</svg>
